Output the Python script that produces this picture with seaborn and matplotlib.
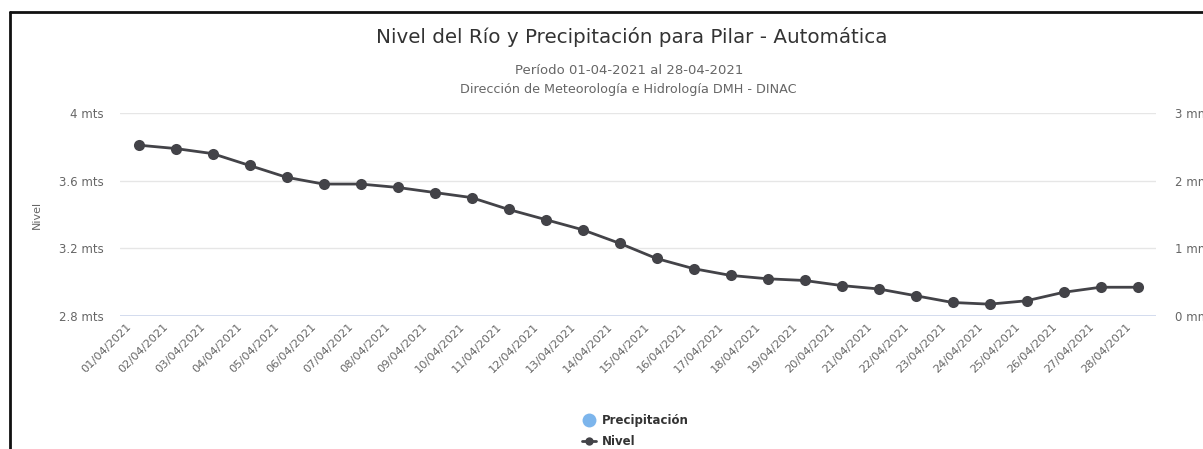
import pandas as pd
import matplotlib
matplotlib.use("Agg")
import matplotlib.pyplot as plt
import matplotlib.transforms as mtransforms
from matplotlib.lines import Line2D
import seaborn as sns

# ==================================================
# Data
# ==================================================

fechas = [f"{d:02d}/04/2021" for d in range(1, 29)]

nivel = [3.81, 3.79, 3.76, 3.69, 3.62, 3.58, 3.58, 3.56, 3.53, 3.50,
         3.43, 3.37, 3.31, 3.23, 3.14, 3.08, 3.04, 3.02, 3.01, 2.98,
         2.96, 2.92, 2.88, 2.87, 2.89, 2.94, 2.97, 2.97]

precipitacion = [0.0] * 28

nivel_ticks = [2.8, 3.2, 3.6, 4.0]
nivel_labels = ["2.8 mts", "3.2 mts", "3.6 mts", "4 mts"]
precip_ticks = [0, 1, 2, 3]
precip_labels = ["0 mm", "1 mm", "2 mm", "3 mm"]

df = pd.DataFrame({"fecha": fechas, "nivel": nivel, "precipitacion": precipitacion})

# ==================================================
# Style
# ==================================================

sns.set_style("white")
plt.rcParams["font.family"] = ["DejaVu Sans"]

LINE_COLOR = "#434348"
BAR_COLOR = "#7cb5ec"
GRID_COLOR = "#e6e6e6"
TEXT_COLOR = "#666666"

W, H = 1203, 449
fig = plt.figure(figsize=(W / 100, H / 100), dpi=100)

left, right, top, bottom = 120, 1156, 113, 316
ax = fig.add_axes([left / W, 1 - bottom / H, (right - left) / W, (bottom - top) / H])
ax2 = ax.twinx()

# precipitation bars (right axis)
sns.barplot(data=df, x="fecha", y="precipitacion", color=BAR_COLOR, ax=ax2, width=0.8)
ax2.set_ylim(0, 3)
ax2.set_yticks(precip_ticks)
ax2.set_yticklabels(precip_labels)
ax2.set_ylabel("")
ax2.set_xlabel("")
ax2.tick_params(axis="y", length=0, pad=14, labelsize=8.5, labelcolor=TEXT_COLOR)

# river level line (left axis)
ax.set_zorder(ax2.get_zorder() + 1)
ax.patch.set_visible(False)
x_pos = list(range(len(fechas)))
sns.lineplot(x=x_pos, y=df["nivel"], ax=ax, color=LINE_COLOR, linewidth=2,
             marker="o", markersize=8, markeredgewidth=0, sort=False)

ax.set_xlim(-0.5, len(fechas) - 0.5)
ax.set_ylim(2.8, 4.0)
ax.set_yticks(nivel_ticks)
ax.set_yticklabels(nivel_labels)
ax.tick_params(axis="y", length=0, pad=12, labelsize=8.5, labelcolor=TEXT_COLOR)
ax.set_xticks(x_pos)
ax.set_xticklabels(fechas, rotation=45, ha="right", rotation_mode="anchor")
ax.tick_params(axis="x", length=0, pad=4, labelsize=8.2, labelcolor=TEXT_COLOR)
shift = mtransforms.ScaledTranslation(-12 / 100, 0, fig.dpi_scale_trans)
for lbl in ax.get_xticklabels():
    lbl.set_transform(lbl.get_transform() + shift)
ax.set_xlabel("")
ax.set_ylabel("Nivel", color=TEXT_COLOR, fontsize=8, labelpad=12)

for t in nivel_ticks[1:]:
    ax.axhline(t, color=GRID_COLOR, linewidth=1, zorder=0)
ax.axhline(2.8, color="#ccd6eb", linewidth=1.2, zorder=0)

for a in (ax, ax2):
    for s in a.spines.values():
        s.set_visible(False)

# ==================================================
# Titles
# ==================================================

fig.text(632 / W, 1 - 37 / H, "Nivel del Río y Precipitación para Pilar - Automática",
         ha="center", va="center", fontsize=14.3, color="#333333")
fig.text(629 / W, 1 - 71 / H, "Período 01-04-2021 al 28-04-2021",
         ha="center", va="center", fontsize=9.5, color=TEXT_COLOR)
fig.text(628 / W, 1 - 90 / H, "Dirección de Meteorología e Hidrología DMH - DINAC",
         ha="center", va="center", fontsize=9.2, color=TEXT_COLOR)

# ==================================================
# Legend
# ==================================================

handles = [
    Line2D([], [], linestyle="none", marker="o", markersize=10,
           markerfacecolor=BAR_COLOR, markeredgewidth=0),
    Line2D([], [], color=LINE_COLOR, linewidth=2, marker="o", markersize=6,
           markeredgewidth=0),
]
leg = fig.legend(handles, ["Precipitación", "Nivel"], loc="center",
                 bbox_to_anchor=(635 / W, 1 - 431 / H), frameon=False,
                 handlelength=1.2, handletextpad=0.5, labelspacing=0.7,
                 prop={"size": 8.5, "weight": "bold"})
for t in leg.get_texts():
    t.set_color("#333333")

# frame lines of the screenshot
fig.add_artist(Line2D([10 / W, 1], [1 - 12 / H, 1 - 12 / H], color="#111111",
                      linewidth=2, transform=fig.transFigure))
fig.add_artist(Line2D([10 / W, 10 / W], [0, 1 - 12 / H], color="#111111",
                      linewidth=2, transform=fig.transFigure))

fig.savefig("out.png", dpi=100)
